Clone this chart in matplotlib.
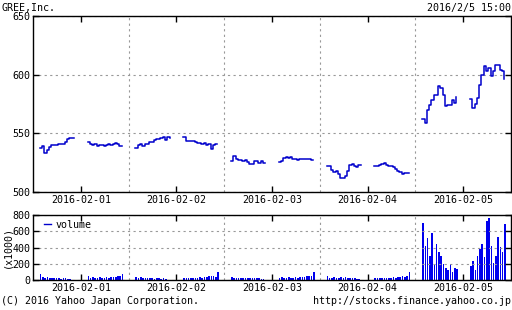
import matplotlib
matplotlib.use("Agg")
import matplotlib.pyplot as plt
import numpy as np

# trading days and tick labels
days = ["2016-02-01", "2016-02-02", "2016-02-03", "2016-02-04", "2016-02-05"]

# prices every 10 min, morning 9:00-11:30 and afternoon 12:30-15:00
price_am = [
    [537.5, 539, 533, 536, 538, 540, 540, 540, 541, 541, 541, 543, 545, 546, 546, 546],
    [537.5, 540, 541, 539, 541, 541, 543, 543, 544, 545, 545, 546, 547, 544, 547, 546],
    [526, 531, 528, 527, 527, 526, 527, 525.5, 524, 524, 526, 526, 525, 526, 524.5, 525],
    [522.5, 522.5, 519, 517, 517.5, 515, 512, 512, 514, 518, 523, 524, 522.5, 521, 523, 523],
    [562, 558.5, 570, 574, 578, 583, 583, 590, 589, 583, 573, 574, 574, 578, 576, 581],
]
price_pm = [
    [543, 541, 540, 541, 539.5, 540, 540, 539.5, 540, 541, 540, 541, 542, 541, 539, 539],
    [547, 543.5, 543.5, 543.5, 543.5, 543, 542, 542, 541, 541.5, 540, 541, 537, 540, 541, 541],
    [525.5, 526, 529, 530, 529, 530, 528.5, 528, 527.5, 528.5, 528, 528.5, 528, 528.5, 527.5, 527.5],
    [522, 522, 523, 523.5, 525, 523, 522.5, 522, 521, 520, 518, 517, 515.5, 516.5, 516, 516],
    [579, 572, 575, 580, 591, 600, 607, 603, 606, 599, 603, 608, 608, 604, 603, 596],
]

# volume (x1000) per 10 min
vol_am = [
    [70, 40, 30, 35, 25, 20, 30, 20, 25, 15, 20, 25, 15, 10, 5, 0],
    [40, 30, 35, 20, 25, 30, 20, 25, 15, 20, 30, 15, 20, 10, 5, 0],
    [40, 25, 30, 30, 20, 25, 30, 20, 25, 30, 20, 25, 20, 15, 10, 0],
    [50, 30, 25, 35, 30, 25, 40, 30, 35, 25, 30, 25, 20, 15, 10, 0],
    [700, 420, 520, 300, 580, 180, 440, 350, 300, 200, 150, 120, 200, 100, 150, 130],
]
vol_pm = [
    [45, 30, 35, 25, 30, 35, 25, 30, 35, 30, 40, 35, 40, 45, 50, 78],
    [20, 25, 20, 25, 30, 25, 30, 35, 30, 40, 35, 45, 50, 55, 40, 98],
    [30, 35, 25, 30, 35, 25, 30, 35, 30, 35, 40, 35, 45, 50, 50, 98],
    [25, 20, 25, 30, 20, 25, 30, 25, 35, 30, 40, 35, 45, 40, 50, 98],
    [170, 230, 120, 300, 385, 440, 280, 730, 760, 420, 210, 290, 530, 410, 340, 690],
]

BLUE = "#0000cc"
GRID = dict(color="#999999", linestyle=(0, (2, 3)), linewidth=0.8)
FONT = "DejaVu Sans Mono"
FS = 7.2

plt.rcParams["font.family"] = FONT
plt.rcParams["font.size"] = FS


def xpos(day, start):
    t = start + np.arange(16) / 6.0
    return day + (t - 8.5) / 7.0


fig = plt.figure(figsize=(5.12, 3.10), dpi=100)
ax = fig.add_axes([33 / 512, 1 - 192 / 310, 478 / 512, 176 / 310])
axv = fig.add_axes([33 / 512, 1 - 280 / 310, 478 / 512, 65 / 310])

bw = (1 / 6.0) / 7.0 * 0.7
for d in range(5):
    for start, pr, vo in ((9.0, price_am, vol_am), (12.5, price_pm, vol_pm)):
        x = xpos(d, start)
        ax.plot(x, pr[d], drawstyle="steps-post", color=BLUE, lw=1.1)
        axv.bar(x, vo[d], width=bw, color="#0000ee", align="edge", linewidth=0)

for a in (ax, axv):
    a.set_xlim(0, 5)
    a.set_xticks(np.arange(5) + 0.5)
    a.set_xticklabels(days)
    a.set_xticks([1, 2, 3, 4], minor=True)
    a.grid(True, which="minor", axis="x", **GRID)
    a.grid(True, which="major", axis="y", **GRID)
    a.tick_params(which="major", direction="in", length=4, width=1, top=True, right=True,
                  labelsize=FS, pad=2)
    a.tick_params(which="minor", length=0)
    for s in a.spines.values():
        s.set_linewidth(1.0)

ax.set_ylim(500, 650)
ax.set_yticks([500, 550, 600, 650])

axv.set_ylim(0, 800)
axv.set_yticks([0, 200, 400, 600, 800])
axv.set_ylabel("(x1000)", labelpad=0, fontsize=FS)
axv.yaxis.set_label_coords(-0.043, 0.5)
axv.plot([], [], color=BLUE, lw=1.0, label="volume")
axv.legend(loc="upper left", frameon=False, fontsize=FS, handlelength=0.7,
           handletextpad=0.5, borderaxespad=0.2, bbox_to_anchor=(0.01, 1.02))

fig.text(0.002, 1 - 8 / 310, "GREE,Inc.", ha="left", va="center", fontsize=FS)
fig.text(0.998, 1 - 8 / 310, "2016/2/5 15:00", ha="right", va="center", fontsize=FS)
fig.text(0.002, 1 - 301 / 310, "(C) 2016 Yahoo Japan Corporation.", ha="left", va="center", fontsize=FS)
fig.text(0.998, 1 - 301 / 310, "http://stocks.finance.yahoo.co.jp", ha="right", va="center", fontsize=FS)

fig.savefig("out.png", dpi=100)
